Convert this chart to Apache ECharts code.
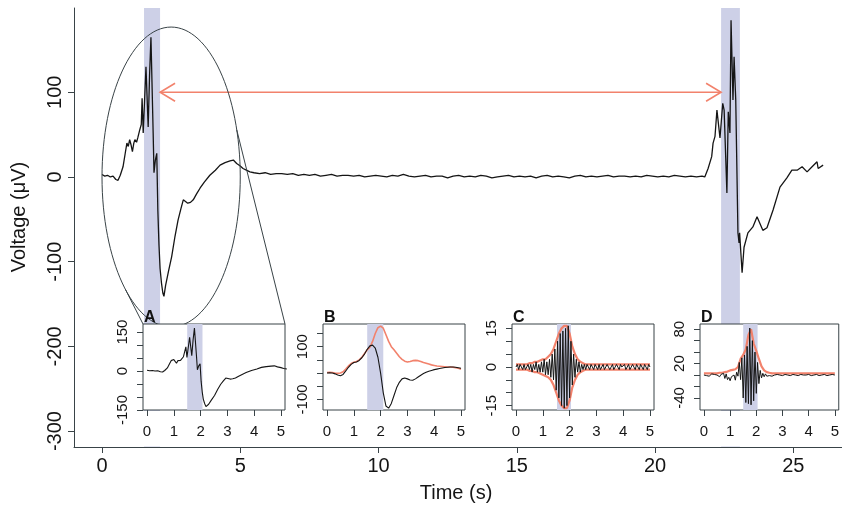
<!DOCTYPE html>
<html><head><meta charset="utf-8">
<script src="https://cdn.jsdelivr.net/npm/echarts@6/dist/echarts.min.js"></script>
<style>html,body{margin:0;padding:0;background:#fff}#c{width:842px;height:505px}</style>
</head><body><div id="c"></div>
<script>
// ---------- main trace (time s, voltage µV) ----------
const seg1T = [0,0.1,0.2,0.3,0.4,0.5,0.58,0.66,0.76,0.84,0.9,0.95,1.0,1.05,1.1,1.15,1.19,1.25,1.3,1.36,1.42,1.45,1.49,1.59,1.67,1.72,1.77,1.85,1.88,1.93,1.98,2.02,2.06,2.1,2.15,2.2,2.24,2.3,2.4,2.52,2.64,2.75,2.85,2.94,3.02,3.1,3.2,3.3,3.42,3.55,3.7,3.9,4.1,4.27,4.45,4.63,4.75,4.87,5.0,5.1,5.22,5.35];
const seg1V = [3,1,2,0,1,-3,-4,2,12,28,40,36,44,38,30,40,44,41,47,55,62,93,52,130,59,120,165,52,5,20,28,-40,-80,-108,-125,-137,-141,-128,-112,-94,-70,-51,-38,-27,-29,-31,-30,-27,-20,-13,-6,2,8,14,17,19,20,16,13,10,8,6];
const baseStart = 5.5, baseStep = 0.2;
const baseV = [5,4,5,3,4,4,3,4,2,
  3,2,3,1,2,3,1,2,2,1,
  2,0,1,2,1,0,2,1,3,1,
  0,1,2,0,1,1,-1,1,2,0,
  1,0,2,1,-1,0,1,2,0,1,
  0,1,-1,1,2,0,1,0,-1,1,
  2,0,1,0,1,2,0,1,1,0,
  1,0,2,1,0,1,0,2,1,0,
  1,0,1];
const seg2T = [21.8,21.92,22.05,22.1,22.17,22.24,22.3,22.35,22.45,22.5,22.6,22.65,22.71,22.75,22.82,22.86,22.92,23.0,23.04,23.06,23.15,23.22,23.36,23.54,23.69,23.9,24.05,24.27,24.52,24.77,24.95,25.14,25.32,25.5,25.68,25.86,25.9,26.08];
const seg2V = [0,10,24,40,48,79,81,46,87,79,-19,77,52,185,91,142,91,-66,-78,-66,-113,-83,-66,-59,-47,-63,-60,-39,-12,-1,8,8,12,6,12,18,10,14];

const mainXTicks = [0,5,10,15,20,25];
const mainYTicks = [-300,-200,-100,0,100];
const mainBands = [[1.52,2.10],[22.39,23.07]];
const arrowV = 100;

// ---------- inset B (0.1 s steps) ----------
const bStep = 0.1;
const bBlack = [0,1,0,-3,-7,-10,-5,8,22,33,40,42,48,58,72,90,103,106,95,60,0,-75,-125,-133,-115,-85,-55,-35,-22,-19,-22,-26,-27,-22,-15,-8,-2,3,7,10,13,15,17,19,21,22,23,23,22,20,18];
const bRed = [2,3,2,0,-1,0,5,15,27,36,41,44,50,60,74,88,98,120,150,172,178,170,145,120,100,88,75,62,52,45,42,44,47,48,47,44,40,37,34,31,29,27,26,25,24,23,23,22,20,18,15];

// ---------- inset C (black 0.05 s, envelope 0.1 s) ----------
const cStep = 0.05, envStep = 0.1;
const cBlack = [0,1,-1,1,0,-1,1,-1,0,1,
  -1,1,-2,1,-1,2,-2,1,-2,2,
  -2,3,-3,2,-3,3,-4,5,-5,7,
  -9,10,-12,13,-15,14,-16,15,-15,16,
  -12,10,-7,5,-4,3,-2,2,-2,1,
  -1,1,-1,1,0,-1,1,0,-1,1,
  0,-1,1,-1,0,1,-1,0,1,0,
  -1,0,1,-1,0,1,0,-1,1,0,
  0,1,-1,0,1,-1,0,1,0,-1,
  1,0,-1,1,0,-1,1,0,-1,1,
  0];
const cEnvUp = [1,1,1,1,1,1.5,1.5,2,2,2.5, 3,3,4,5,7,10,13,15,16,16, 13,8,5,3,2,1.5,1,1,1,1, 1,1,1,1,1,1,1,1,1,1, 1,1,1,1,1,1,1,1,1,1,1];
const cEnvLo = [-1,-1,-1,-1,-1,-1.5,-1.5,-2,-2,-2.5, -3,-3.5,-4,-5,-7,-10,-13,-15,-16,-16, -13,-8,-5,-3,-2,-1.5,-1,-1,-1,-1, -1,-1,-1,-1,-1,-1,-1,-1,-1,-1, -1,-1,-1,-1,-1,-1,-1,-1,-1,-1,-1];

// ---------- inset D ----------
const dBlack = [0,2,-1,1,-2,0,2,-1,1,-2,
  0,2,-3,1,-2,3,-6,2,-8,-4,
  -10,-3,-6,0,-9,5,-2,22,-8,30,
  -40,35,-48,50,-50,82,-52,60,-45,40,
  -32,22,-15,8,-5,3,-3,2,-2,1,
  -1,1,-2,1,0,-1,1,-1,0,1,
  -1,0,1,-1,0,1,-1,0,1,-1,
  0,1,-1,0,1,-1,0,1,0,-1,
  1,0,-1,1,0,-1,1,0,-1,1,
  0,-1,1,0,-1,1,0,-1,1,0,
  0];
const dEnv = [3,3,3,3,3,3,4,4,5,6, 8,9,10,14,28,35,45,70,80,55, 42,28,15,8,5,4,3,3,3,3, 3,3,3,3,3,3,3,3,3,3, 3,3,3,3,3,3,3,3,3,3,3];

// ---------- inset axes ticks / labels / bands ----------
const insetXTicks = [0,1,2,3,4,5];
const aYTicks = [-150,-100,-50,0,50,100,150], aYLabels = [-150,0,150];
const bYTicks = [-100,-50,0,50,100,150], bYLabels = [-100,100];
const cYTicks = [-15,-10,-5,0,5,10,15], cYLabels = [-15,0,15];
const dYTicks = [-40,-20,0,20,40,60,80], dYLabels = [-40,20,80];
const insetBands = {A:[1.5,2.07], B:[1.5,2.1], C:[1.53,2.05], D:[1.5,2.05]};
const insetLetters = ['A','B','C','D'];

// ---------- build ----------
const mainData = [];
seg1T.forEach((t,i)=>mainData.push([t, seg1V[i]]));
baseV.forEach((v,i)=>mainData.push([+(baseStart + i*baseStep).toFixed(2), v]));
seg2T.forEach((t,i)=>mainData.push([t, seg2V[i]]));
const aData = mainData.filter(p=>p[0] <= 5.22);
const grid = (arr, step) => arr.map((v,i)=>[+(i*step).toFixed(3), v]);

const FONT = '"Liberation Sans", Arial, sans-serif';
const AX = '#394347';
const INK = '#151515';
const BAND = '#cdd0e7';
const SAL = '#f2826c';

const insetCfg = [
  {left:143, top:324, width:142, height:86, yMin:-150, yMax:181, yt:aYTicks, yl:aYLabels, band:insetBands.A},
  {left:323, top:324, width:142, height:86, yMin:-140, yMax:186, yt:bYTicks, yl:bYLabels, band:insetBands.B},
  {left:512, top:324, width:142, height:86, yMin:-16.7, yMax:16.7, yt:cYTicks, yl:cYLabels, band:insetBands.C},
  {left:700, top:324, width:141, height:86, yMin:-61, yMax:89, yt:dYTicks, yl:dYLabels, band:insetBands.D}
];

const grids = [{left:74, top:8, width:768, height:439}];
const xAxes = [{
  gridIndex:0, type:'value', min:-1.013, max:26.763,
  axisLine:{show:true, onZero:false, lineStyle:{color:AX, width:1}},
  axisTick:{show:true, customValues:mainXTicks, length:6, lineStyle:{color:AX}},
  axisLabel:{customValues:mainXTicks, fontSize:20, color:INK, fontFamily:FONT, margin:9},
  splitLine:{show:false}
}];
const yAxes = [{
  gridIndex:0, type:'value', min:-318.8, max:199.5,
  axisLine:{show:true, onZero:false, lineStyle:{color:AX, width:1}},
  axisTick:{show:true, customValues:mainYTicks, length:6, lineStyle:{color:AX}},
  axisLabel:{customValues:mainYTicks, rotate:90, fontSize:20, color:INK, fontFamily:FONT, margin:9},
  splitLine:{show:false}
}];
insetCfg.forEach((c,k)=>{
  const gi = k+1;
  grids.push({left:c.left, top:c.top, width:c.width, height:c.height, show:true, backgroundColor:'#fff', borderColor:AX, borderWidth:1, z:5});
  xAxes.push({gridIndex:gi, type:'value', min:-0.15, max:5.15, z:6,
    axisLine:{show:false, onZero:false},
    axisTick:{show:true, customValues:insetXTicks, length:6, lineStyle:{color:AX}},
    axisLabel:{customValues:insetXTicks, fontSize:15, color:INK, fontFamily:FONT, margin:14},
    splitLine:{show:false}});
  yAxes.push({gridIndex:gi, type:'value', min:c.yMin, max:c.yMax, z:6,
    axisLine:{show:false, onZero:false},
    axisTick:{show:true, customValues:c.yt, length:6, lineStyle:{color:AX}},
    axisLabel:{customValues:c.yl, rotate:90, fontSize:15, color:INK, fontFamily:FONT, margin:13},
    splitLine:{show:false}});
});

function lineS(gi, data, color, width, z, band){
  const s = {type:'line', xAxisIndex:gi, yAxisIndex:gi, data:data, symbol:'none', silent:true, z:z,
    lineStyle:{color:color, width:width}, animation:false};
  if (band) s.markArea = {silent:true, z: gi===0 ? 1 : 6, itemStyle:{color:BAND}, data: band.map(b=>[{xAxis:b[0]},{xAxis:b[1]}])};
  return s;
}
const series = [
  lineS(0, mainData, INK, 1.3, 2, mainBands),
  lineS(1, aData, INK, 1.1, 7, [insetBands.A]),
  lineS(2, grid(bRed,bStep), SAL, 1.6, 7, [insetBands.B]),
  lineS(2, grid(bBlack,bStep), INK, 1.1, 8),
  lineS(3, grid(cEnvUp,envStep), SAL, 2.2, 7, [insetBands.C]),
  lineS(3, grid(cEnvLo,envStep), SAL, 2.2, 7),
  lineS(3, grid(cBlack,cStep), INK, 1.0, 8),
  lineS(4, grid(dEnv,envStep), SAL, 2.2, 7, [insetBands.D]),
  lineS(4, grid(dBlack,cStep), INK, 1.0, 8)
];

const chart = echarts.init(document.getElementById('c'), null, {renderer:'canvas'});
chart.setOption({
  animation:false, backgroundColor:'#fff',
  grid:grids, xAxis:xAxes, yAxis:yAxes, series:series
});

// ---------- annotations (positions from data coordinates) ----------
const P = (t,v,gi)=>chart.convertToPixel({gridIndex:gi||0}, [t,v]);
const g = [];
// arrow between the two events
const a1 = P(mainBands[0][1], arrowV), a2 = P(mainBands[1][0], arrowV);
const arrowStyle = {stroke:SAL, lineWidth:1.6, fill:null};
g.push({type:'line', z:3, shape:{x1:a1[0], y1:a1[1], x2:a2[0], y2:a2[1]}, style:arrowStyle});
g.push({type:'polyline', z:3, shape:{points:[[a1[0]+15,a1[1]-9],[a1[0],a1[1]],[a1[0]+15,a1[1]+9]]}, style:arrowStyle});
g.push({type:'polyline', z:3, shape:{points:[[a2[0]-15,a2[1]-9],[a2[0],a2[1]],[a2[0]-15,a2[1]+9]]}, style:arrowStyle});
// ellipse around first event: centre (2.5 s, 0 µV), semi-axes 2.5 s and 177 µV
const ec = P(2.5, 0), ex = P(5.0, 0), ey = P(2.5, 177);
const rx = ex[0]-ec[0], ry = ec[1]-ey[1];
g.push({type:'ellipse', z:3, shape:{cx:ec[0], cy:ec[1], rx:rx, ry:ry}, style:{fill:null, stroke:AX, lineWidth:1}});
// connectors from ellipse to inset A box corners
const aTL = [insetCfg[0].left, insetCfg[0].top], aTR = [insetCfg[0].left+insetCfg[0].width, insetCfg[0].top];
const dyR = -47, dyL = 113;
const pR = [ec[0] + rx*Math.sqrt(1-(dyR/ry)**2), ec[1]+dyR];
const pL = [ec[0] - rx*Math.sqrt(1-(dyL/ry)**2), ec[1]+dyL];
g.push({type:'line', z:3, shape:{x1:pR[0], y1:pR[1], x2:aTR[0], y2:aTR[1]}, style:{stroke:AX, lineWidth:1}});
g.push({type:'line', z:3, shape:{x1:pL[0], y1:pL[1], x2:aTL[0], y2:aTL[1]}, style:{stroke:AX, lineWidth:1}});
// white covers under inset boxes (tick-label zone)
insetCfg.forEach(c=>{
  g.push({type:'rect', z:4, shape:{x:c.left-36, y:c.top+c.height+1, width:c.width+40, height:446.5-(c.top+c.height+1)}, style:{fill:'#fff'}});
});
// panel letters
insetCfg.forEach((c,k)=>{
  g.push({type:'text', z:9, x:c.left+1, y:c.top+2, style:{text:insetLetters[k], font:'bold 16px '+FONT, fill:'#111', textAlign:'left', textVerticalAlign:'bottom'}});
});
// axis titles
g.push({type:'text', z:9, x:19, y:217, rotation:Math.PI/2, style:{text:'Voltage (\u03bcV)', font:'20px '+FONT, fill:INK, textAlign:'center', textVerticalAlign:'middle'}});
g.push({type:'text', z:9, x:456, y:493, style:{text:'Time (s)', font:'20px '+FONT, fill:INK, textAlign:'center', textVerticalAlign:'middle'}});
chart.setOption({graphic:{elements:g}});
</script></body></html>
